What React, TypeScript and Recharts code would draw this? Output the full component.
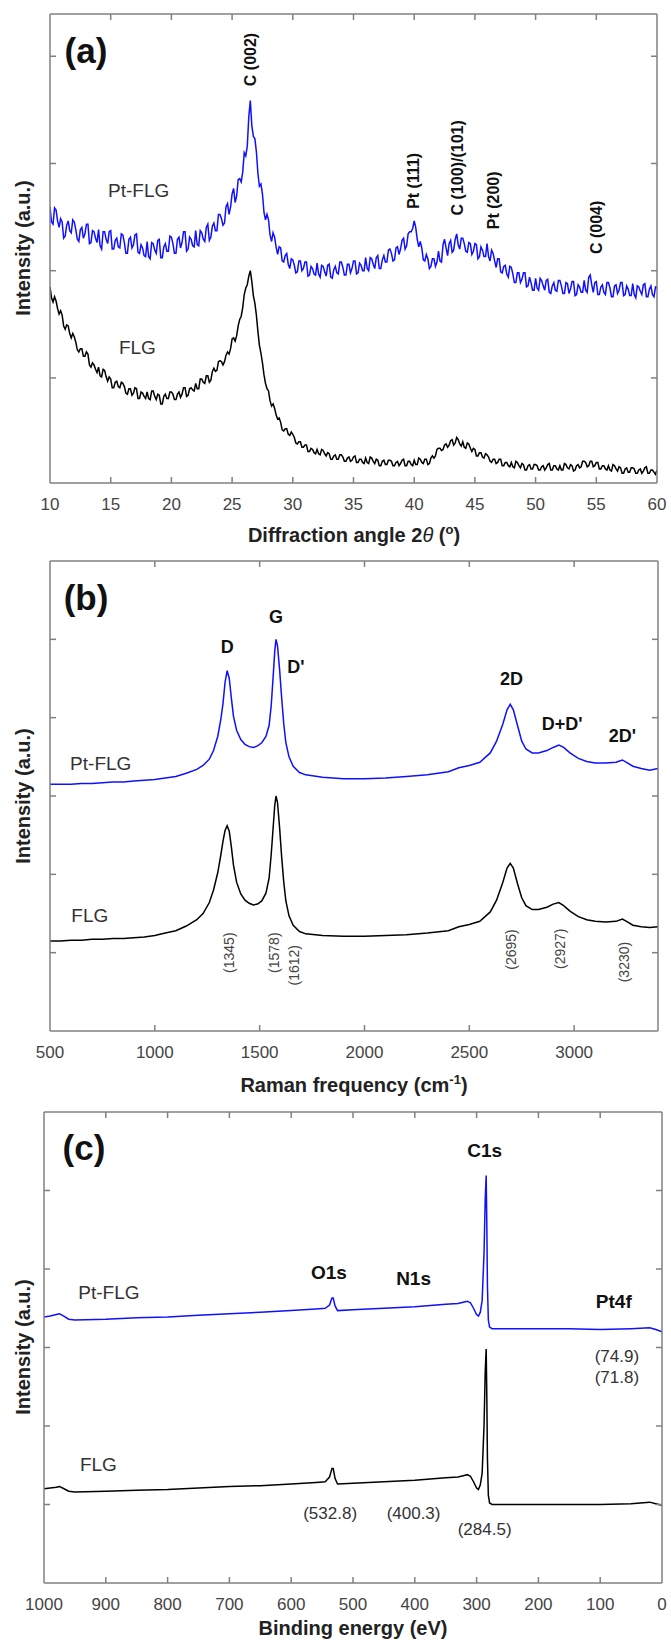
import React from 'react';
import { LineChart, Line, XAxis, YAxis, ReferenceDot, ReferenceLine } from 'recharts';

const FONT = '"Liberation Sans", Arial, Helvetica, sans-serif';
const BLUE = '#1010ff';
const BLACK = '#000000';
const FRAME = '#808080';
const TICK_TEXT = '#444444';
const TICK_LEN = 6;

// ---------- (a) XRD : one reading every 0.125 degree, 10 -> 60 ----------
const xrdStart = 10;
const xrdStep = 0.125;
const xrdPtFLG = [
  2.55, 2.41, 2.39, 2.54, 2.52, 2.42, 2.36, 2.44, 2.41, 2.26, 2.28, 2.38, 2.42, 2.33, 2.31, 2.43,
  2.41, 2.34, 2.25, 2.23, 2.34, 2.36, 2.26, 2.30, 2.39, 2.39, 2.21, 2.22, 2.33, 2.32, 2.26, 2.22,
  2.34, 2.19, 2.16, 2.32, 2.32, 2.25, 2.21, 2.32, 2.33, 2.16, 2.16, 2.24, 2.26, 2.18, 2.17, 2.30,
  2.29, 2.22, 2.12, 2.12, 2.25, 2.27, 2.17, 2.20, 2.29, 2.30, 2.13, 2.12, 2.20, 2.17, 2.10, 2.09,
  2.23, 2.09, 2.07, 2.22, 2.21, 2.15, 2.12, 2.24, 2.25, 2.08, 2.08, 2.18, 2.21, 2.14, 2.14, 2.28,
  2.27, 2.21, 2.12, 2.12, 2.25, 2.27, 2.17, 2.22, 2.32, 2.32, 2.14, 2.16, 2.27, 2.25, 2.19, 2.18,
  2.33, 2.20, 2.19, 2.33, 2.31, 2.25, 2.23, 2.36, 2.39, 2.24, 2.27, 2.37, 2.40, 2.33, 2.33, 2.48,
  2.48, 2.44, 2.38, 2.40, 2.55, 2.58, 2.48, 2.55, 2.67, 2.72, 2.59, 2.65, 2.80, 2.81, 2.78, 2.87,
  3.05, 3.02, 3.11, 3.38, 3.53, 3.30, 3.20, 3.18, 3.06, 2.86, 2.74, 2.76, 2.67, 2.50, 2.43, 2.48,
  2.43, 2.29, 2.23, 2.31, 2.27, 2.18, 2.11, 2.18, 2.17, 2.05, 2.04, 2.10, 2.12, 2.02, 1.98, 2.07,
  2.06, 2.01, 1.94, 1.95, 2.05, 2.05, 1.96, 1.98, 2.04, 2.04, 1.91, 1.92, 2.00, 1.98, 1.93, 1.92,
  2.03, 1.93, 1.90, 2.01, 2.00, 1.95, 1.91, 2.01, 2.02, 1.90, 1.89, 1.97, 2.00, 1.94, 1.93, 2.04,
  2.04, 1.99, 1.92, 1.92, 2.02, 2.02, 1.94, 1.98, 2.05, 2.05, 1.93, 1.94, 2.03, 2.01, 1.96, 1.96,
  2.08, 1.98, 1.96, 2.08, 2.07, 2.02, 1.98, 2.08, 2.10, 1.98, 1.98, 2.06, 2.10, 2.04, 2.04, 2.15,
  2.16, 2.12, 2.05, 2.06, 2.17, 2.18, 2.11, 2.16, 2.24, 2.26, 2.16, 2.19, 2.30, 2.32, 2.32, 2.35,
  2.42, 2.36, 2.25, 2.18, 2.23, 2.17, 2.06, 2.05, 2.11, 2.07, 1.98, 2.00, 2.07, 2.07, 2.00, 2.04,
  2.14, 2.05, 2.04, 2.20, 2.25, 2.17, 2.10, 2.21, 2.24, 2.13, 2.15, 2.25, 2.30, 2.20, 2.16, 2.26,
  2.26, 2.21, 2.14, 2.13, 2.22, 2.21, 2.11, 2.14, 2.21, 2.20, 2.07, 2.09, 2.18, 2.15, 2.09, 2.09,
  2.21, 2.09, 2.05, 2.15, 2.12, 2.05, 1.99, 2.07, 2.07, 1.95, 1.94, 2.00, 2.01, 1.93, 1.90, 2.00,
  1.99, 1.93, 1.85, 1.85, 1.94, 1.94, 1.85, 1.88, 1.94, 1.94, 1.81, 1.82, 1.90, 1.85, 1.78, 1.78,
  1.89, 1.80, 1.78, 1.89, 1.87, 1.82, 1.78, 1.87, 1.88, 1.76, 1.75, 1.82, 1.85, 1.78, 1.77, 1.87,
  1.87, 1.82, 1.75, 1.75, 1.85, 1.84, 1.75, 1.79, 1.86, 1.86, 1.73, 1.74, 1.83, 1.81, 1.76, 1.76,
  1.87, 1.78, 1.76, 1.90, 1.92, 1.83, 1.76, 1.85, 1.86, 1.74, 1.74, 1.81, 1.83, 1.76, 1.74, 1.85,
  1.85, 1.80, 1.72, 1.72, 1.82, 1.83, 1.75, 1.78, 1.85, 1.85, 1.73, 1.74, 1.82, 1.79, 1.73, 1.73,
  1.84, 1.74, 1.71, 1.82, 1.81, 1.77, 1.74, 1.83, 1.84, 1.72, 1.72, 1.79, 1.82, 1.74, 1.72, 1.81,
  1.80,
];
const xrdFLG = [
  1.81, 1.71, 1.67, 1.72, 1.68, 1.61, 1.56, 1.59, 1.55, 1.45, 1.42, 1.46, 1.45, 1.38, 1.34, 1.38,
  1.35, 1.30, 1.23, 1.21, 1.24, 1.24, 1.17, 1.17, 1.21, 1.19, 1.09, 1.07, 1.11, 1.09, 1.05, 1.02,
  1.07, 0.99, 0.98, 1.05, 1.04, 0.98, 0.94, 0.98, 0.96, 0.88, 0.88, 0.93, 0.94, 0.89, 0.88, 0.93,
  0.92, 0.89, 0.83, 0.82, 0.87, 0.87, 0.81, 0.83, 0.88, 0.87, 0.78, 0.78, 0.84, 0.83, 0.80, 0.78,
  0.84, 0.78, 0.77, 0.85, 0.85, 0.80, 0.77, 0.82, 0.81, 0.73, 0.73, 0.80, 0.82, 0.78, 0.78, 0.84,
  0.84, 0.82, 0.77, 0.77, 0.82, 0.84, 0.79, 0.82, 0.88, 0.88, 0.80, 0.81, 0.87, 0.88, 0.86, 0.85,
  0.92, 0.87, 0.87, 0.96, 0.96, 0.93, 0.92, 0.99, 0.99, 0.93, 0.95, 1.03, 1.06, 1.03, 1.04, 1.12,
  1.13, 1.12, 1.09, 1.12, 1.18, 1.21, 1.19, 1.24, 1.33, 1.34, 1.31, 1.36, 1.45, 1.51, 1.54, 1.62,
  1.74, 1.80, 1.83, 1.91, 1.96, 1.86, 1.73, 1.66, 1.55, 1.40, 1.27, 1.20, 1.11, 1.00, 0.92, 0.87,
  0.85, 0.76, 0.71, 0.73, 0.69, 0.63, 0.59, 0.60, 0.56, 0.49, 0.48, 0.50, 0.50, 0.45, 0.44, 0.47,
  0.45, 0.42, 0.37, 0.36, 0.38, 0.38, 0.33, 0.33, 0.35, 0.35, 0.29, 0.29, 0.32, 0.31, 0.28, 0.27,
  0.31, 0.27, 0.26, 0.31, 0.30, 0.27, 0.25, 0.28, 0.27, 0.22, 0.22, 0.25, 0.26, 0.22, 0.22, 0.26,
  0.26, 0.24, 0.20, 0.20, 0.23, 0.24, 0.20, 0.21, 0.24, 0.25, 0.19, 0.19, 0.22, 0.22, 0.19, 0.18,
  0.23, 0.19, 0.18, 0.24, 0.23, 0.20, 0.18, 0.22, 0.21, 0.16, 0.16, 0.20, 0.21, 0.17, 0.17, 0.21,
  0.21, 0.20, 0.16, 0.16, 0.19, 0.20, 0.16, 0.18, 0.21, 0.22, 0.16, 0.16, 0.20, 0.20, 0.17, 0.16,
  0.21, 0.17, 0.17, 0.23, 0.22, 0.19, 0.18, 0.22, 0.22, 0.17, 0.18, 0.23, 0.25, 0.23, 0.25, 0.31,
  0.32, 0.32, 0.30, 0.31, 0.35, 0.36, 0.33, 0.35, 0.39, 0.40, 0.35, 0.37, 0.42, 0.40, 0.36, 0.34,
  0.38, 0.33, 0.32, 0.37, 0.36, 0.32, 0.29, 0.32, 0.31, 0.25, 0.25, 0.28, 0.28, 0.24, 0.23, 0.27,
  0.26, 0.24, 0.20, 0.19, 0.22, 0.22, 0.18, 0.19, 0.22, 0.22, 0.16, 0.16, 0.19, 0.19, 0.16, 0.15,
  0.19, 0.15, 0.14, 0.20, 0.19, 0.16, 0.14, 0.18, 0.17, 0.12, 0.12, 0.16, 0.17, 0.13, 0.13, 0.17,
  0.17, 0.16, 0.12, 0.12, 0.15, 0.16, 0.12, 0.14, 0.17, 0.18, 0.12, 0.12, 0.16, 0.16, 0.13, 0.12,
  0.16, 0.12, 0.12, 0.18, 0.17, 0.14, 0.13, 0.17, 0.16, 0.11, 0.12, 0.16, 0.17, 0.14, 0.15, 0.20,
  0.20, 0.19, 0.15, 0.16, 0.20, 0.20, 0.15, 0.16, 0.19, 0.19, 0.13, 0.13, 0.16, 0.16, 0.13, 0.12,
  0.16, 0.12, 0.11, 0.17, 0.16, 0.13, 0.11, 0.15, 0.14, 0.09, 0.09, 0.13, 0.14, 0.10, 0.10, 0.14,
  0.14, 0.13, 0.09, 0.09, 0.12, 0.13, 0.09, 0.11, 0.14, 0.15, 0.09, 0.09, 0.12, 0.12, 0.10, 0.08,
  0.12,
];
const xrdAngle = xrdPtFLG.map((_, i) => xrdStart + i * xrdStep);
const xrdTicks = [10, 15, 20, 25, 30, 35, 40, 45, 50, 55, 60];
const xrdYTicks = [0.97, 1.96, 2.95, 3.94];

// ---------- (b) Raman ----------
const ramanShift = [
  500, 550, 600, 650, 700, 750, 800, 850, 900, 950, 1000, 1050, 1100, 1150, 1200,
  1230, 1260, 1280, 1300, 1315, 1325, 1335, 1345, 1355, 1365, 1375, 1390, 1410, 1430, 1450, 1470,
  1490, 1510, 1530, 1545, 1555, 1565, 1572, 1578, 1585, 1595, 1605, 1615, 1625, 1640, 1660, 1690, 1720,
  1800, 1900, 2000, 2100, 2200, 2300, 2400,
  2450, 2500, 2550, 2600, 2630, 2660, 2680, 2695, 2710, 2730, 2750, 2770, 2800, 2830, 2870,
  2900, 2927, 2950, 2980, 3020, 3060, 3100, 3150, 3200, 3230, 3250, 3280, 3320, 3360, 3400,
];
const ramanPtFLG = [
  3.15, 3.15, 3.15, 3.16, 3.16, 3.17, 3.18, 3.18, 3.19, 3.20, 3.21, 3.23, 3.25, 3.29, 3.34,
  3.39, 3.47, 3.58, 3.76, 3.98, 4.18, 4.45, 4.60, 4.50, 4.25, 4.02, 3.84, 3.72, 3.66, 3.63, 3.62,
  3.64, 3.68, 3.76, 3.90, 4.15, 4.55, 4.85, 5.00, 4.92, 4.62, 4.25, 3.92, 3.68, 3.50, 3.38, 3.30, 3.27,
  3.24, 3.22, 3.22, 3.23, 3.25, 3.27, 3.31,
  3.36, 3.39, 3.43, 3.55, 3.70, 3.92, 4.10, 4.17, 4.10, 3.90, 3.70, 3.60, 3.55, 3.55, 3.58,
  3.62, 3.65, 3.62, 3.55, 3.48, 3.44, 3.42, 3.42, 3.43, 3.46, 3.43, 3.38, 3.35, 3.33, 3.35,
];
const ramanFLG = [
  1.15, 1.15, 1.16, 1.16, 1.17, 1.17, 1.18, 1.18, 1.19, 1.20, 1.22, 1.25, 1.28, 1.34, 1.42,
  1.50, 1.64, 1.80, 2.02, 2.25, 2.42, 2.56, 2.62, 2.55, 2.35, 2.12, 1.90, 1.75, 1.67, 1.63, 1.61,
  1.62, 1.66, 1.76, 1.95, 2.25, 2.62, 2.88, 3.00, 2.92, 2.60, 2.22, 1.90, 1.66, 1.47, 1.35, 1.27, 1.24,
  1.22, 1.21, 1.21, 1.22, 1.23, 1.25, 1.28,
  1.33, 1.36, 1.40, 1.52, 1.67, 1.90, 2.08, 2.14, 2.08, 1.88, 1.70, 1.60, 1.55, 1.55, 1.58,
  1.62, 1.64, 1.60, 1.53, 1.46, 1.42, 1.40, 1.39, 1.40, 1.43, 1.40, 1.35, 1.33, 1.32, 1.33,
];
const ramanTicks = [500, 1000, 1500, 2000, 2500, 3000];
const sixTicks = [1, 2, 3, 4, 5];

// ---------- (c) XPS ----------
const xpsEnergy = [
  1000, 990, 980, 975, 970, 960, 950, 900, 850, 800, 750, 700, 650, 600, 560, 545, 538, 534, 532, 529,
  525, 500, 450, 400, 350, 330, 320, 315, 310, 305, 300, 297, 294, 291, 288, 286, 284.5, 283.5, 282.5, 281,
  279, 275, 250, 200, 150, 100, 50, 20, 10, 0,
];
const xpsPtFLG = [
  3.39, 3.40, 3.42, 3.43, 3.41, 3.36, 3.35, 3.36, 3.38, 3.39, 3.41, 3.43, 3.45, 3.47, 3.49, 3.50, 3.54, 3.63, 3.63, 3.53,
  3.47, 3.48, 3.50, 3.52, 3.55, 3.56, 3.58, 3.59, 3.57, 3.50, 3.42, 3.40, 3.45, 3.60, 4.20, 4.90, 5.19, 4.60, 3.80, 3.35,
  3.26, 3.24, 3.24, 3.24, 3.24, 3.23, 3.24, 3.25, 3.23, 3.20,
];
const xpsFLG = [
  1.20, 1.21, 1.22, 1.23, 1.21, 1.17, 1.16, 1.17, 1.18, 1.19, 1.21, 1.23, 1.24, 1.26, 1.28, 1.29, 1.35, 1.46, 1.46, 1.33,
  1.26, 1.27, 1.29, 1.31, 1.34, 1.35, 1.37, 1.38, 1.36, 1.29, 1.21, 1.19, 1.25, 1.40, 2.00, 2.70, 2.98, 2.40, 1.60, 1.12,
  1.02, 1.00, 1.00, 1.00, 1.00, 1.00, 1.01, 1.03, 1.01, 0.99,
];
const xpsTicks = [0, 100, 200, 300, 400, 500, 600, 700, 800, 900, 1000];

// ---------- annotations (data coordinates) ----------
type Note = { text: string; x: number; y: number };
const xrdPeakNotes: Note[] = [
  { text: 'C (002)', x: 26.5, y: 3.91 },
  { text: 'Pt (111)', x: 39.95, y: 2.79 },
  { text: 'C (100)/(101)', x: 43.6, y: 2.91 },
  { text: 'Pt (200)', x: 46.5, y: 2.61 },
  { text: 'C (004)', x: 55.0, y: 2.36 },
];
const xrdSampleNotes: Note[] = [
  { text: 'Pt-FLG', x: 17.3, y: 2.70 },
  { text: 'FLG', x: 17.2, y: 1.25 },
];
const ramanBandNotes: Note[] = [
  { text: 'D', x: 1345, y: 4.90 },
  { text: 'G', x: 1578, y: 5.29 },
  { text: "D'", x: 1673, y: 4.65 },
  { text: '2D', x: 2701, y: 4.49 },
  { text: "D+D'", x: 2943, y: 3.92 },
  { text: "2D'", x: 3230, y: 3.76 },
];
const ramanPosNotes: Note[] = [
  { text: '(1345)', x: 1356, y: 1.0 },
  { text: '(1578)', x: 1567, y: 1.0 },
  { text: '(1612)', x: 1663, y: 0.84 },
  { text: '(2695)', x: 2701, y: 1.04 },
  { text: '(2927)', x: 2933, y: 1.05 },
  { text: '(3230)', x: 3240, y: 0.88 },
];
const ramanSampleNotes: Note[] = [
  { text: 'Pt-FLG', x: 742, y: 3.42 },
  { text: 'FLG', x: 690, y: 1.47 },
];
const xpsLineNotes: Note[] = [
  { text: 'C1s', x: 287, y: 5.51 },
  { text: 'O1s', x: 539, y: 3.96 },
  { text: 'N1s', x: 402, y: 3.88 },
  { text: 'Pt4f', x: 78, y: 3.59 },
];
const xpsPosNotes: Note[] = [
  { text: '(74.9)', x: 73, y: 2.89 },
  { text: '(71.8)', x: 73, y: 2.62 },
  { text: '(532.8)', x: 537, y: 0.89 },
  { text: '(400.3)', x: 402, y: 0.89 },
  { text: '(284.5)', x: 287, y: 0.68 },
];
const xpsSampleNotes: Note[] = [
  { text: 'Pt-FLG', x: 895, y: 3.70 },
  { text: 'FLG', x: 912, y: 1.51 },
];

// ---------- tables ----------
const xrdRows = xrdAngle.map((x, i) => ({ x, pt: xrdPtFLG[i], flg: xrdFLG[i] }));
const ramanRows = ramanShift.map((x, i) => ({ x, pt: ramanPtFLG[i], flg: ramanFLG[i] }));
const xpsRows = xpsEnergy.map((x, i) => ({ x, pt: xpsPtFLG[i], flg: xpsFLG[i] }));

const EmptyTick = () => <g />;

// frame: labelled bottom axis, left/right mirrored axes with inward ticks,
// a top border line, and inward x ticks on the top and bottom borders.
function frameAxes(
  xDomain: [number, number], xTicks: number[], yDomain: [number, number], yTicks: number[],
  plotHeightPx: number, reversed = false,
) {
  const line = { stroke: FRAME, strokeWidth: 1.5 };
  const tickLenData = (TICK_LEN / plotHeightPx) * (yDomain[1] - yDomain[0]);
  const inner = xTicks.filter((t) => t > Math.min(...xDomain) && t < Math.max(...xDomain));
  return [
    <XAxis
      key="xm" xAxisId="main" dataKey="x" type="number" domain={xDomain} ticks={xTicks} interval={0}
      reversed={reversed} allowDataOverflow tickLine={false} axisLine={line}
      tick={{ fill: TICK_TEXT, fontSize: 17, fontFamily: FONT }} tickSize={6} tickMargin={9} height={30}
    />,
    <YAxis
      key="yl" yAxisId="left" type="number" orientation="left" mirror domain={yDomain} ticks={yTicks} interval={0}
      allowDataOverflow tick={EmptyTick} tickSize={TICK_LEN} tickLine={line} axisLine={line} width={2}
    />,
    <YAxis
      key="yr" yAxisId="right" type="number" orientation="right" mirror domain={yDomain} ticks={yTicks} interval={0}
      allowDataOverflow tick={EmptyTick} tickSize={TICK_LEN} tickLine={line} axisLine={line} width={2}
    />,
    <ReferenceLine key="topline" xAxisId="main" yAxisId="left" y={yDomain[1]} stroke={FRAME} strokeWidth={1.5} ifOverflow="visible" />,
    ...inner.map((t) => (
      <ReferenceLine
        key={'tb' + t} xAxisId="main" yAxisId="left" stroke={FRAME} strokeWidth={1.5} ifOverflow="visible"
        segment={[{ x: t, y: yDomain[0] }, { x: t, y: yDomain[0] + tickLenData }]}
      />
    )),
    ...inner.map((t) => (
      <ReferenceLine
        key={'tt' + t} xAxisId="main" yAxisId="left" stroke={FRAME} strokeWidth={1.5} ifOverflow="visible"
        segment={[{ x: t, y: yDomain[1] }, { x: t, y: yDomain[1] - tickLenData }]}
      />
    )),
  ];
}

type NoteStyle = { size: number; weight: number; fill: string; rotate?: boolean };
function noteDots(prefix: string, notes: Note[], st: NoteStyle) {
  return notes.map((n, i) => (
    <ReferenceDot
      key={prefix + i}
      xAxisId="main"
      yAxisId="left"
      x={n.x}
      y={n.y}
      r={1}
      ifOverflow="visible"
      shape={(p: any) => (
        <text
          x={p.cx}
          y={p.cy}
          textAnchor="middle"
          dominantBaseline="central"
          fontFamily={FONT}
          fontSize={st.size}
          fontWeight={st.weight}
          fill={st.fill}
          transform={st.rotate ? `rotate(-90 ${p.cx} ${p.cy})` : undefined}
        >
          {n.text}
        </text>
      )}
    />
  ));
}

function series(width: number) {
  return [
    <Line key="pt" xAxisId="main" yAxisId="left" dataKey="pt" type="linear" stroke={BLUE} strokeWidth={width} dot={false} isAnimationActive={false} />,
    <Line key="flg" xAxisId="main" yAxisId="left" dataKey="flg" type="linear" stroke={BLACK} strokeWidth={width} dot={false} isAnimationActive={false} />,
  ];
}

const abs = (left: number, top: number): React.CSSProperties => ({
  position: 'absolute', left, top, transform: 'translate(-50%, -50%)', whiteSpace: 'nowrap', lineHeight: 1,
});
const titleStyle: React.CSSProperties = { fontFamily: FONT, fontWeight: 700, fontSize: 20, color: '#222' };
const panelStyle: React.CSSProperties = { fontFamily: FONT, fontWeight: 700, fontSize: 35, color: '#111' };

function YLabel({ top }: { top: number }) {
  return (
    <div style={{ ...abs(23, top), ...titleStyle, transform: 'translate(-50%, -50%) rotate(-90deg)' }}>
      Intensity (a.u.)
    </div>
  );
}

const sampleStyle: NoteStyle = { size: 19, weight: 400, fill: '#333' };

export default function App() {
  return (
    <div style={{ position: 'relative', width: 671, height: 1646, background: '#fff', overflow: 'hidden' }}>
      <style>{'body{margin:0;background:#fff}'}</style>

      {/* (a) XRD */}
      <div style={{ position: 'absolute', left: 0, top: 0 }}>
        <LineChart width={671} height={560} data={xrdRows} margin={{ top: 14, right: 14, bottom: 47, left: 50 }}>
          {frameAxes([10, 60], xrdTicks, [0, 4.33], xrdYTicks, 469)}
          {series(1.5)}
          {noteDots('xp', xrdPeakNotes, { size: 16, weight: 700, fill: '#111', rotate: true })}
          {noteDots('xs', xrdSampleNotes, sampleStyle)}
        </LineChart>
      </div>

      {/* (b) Raman */}
      <div style={{ position: 'absolute', left: 0, top: 545 }}>
        <LineChart width={671} height={560} data={ramanRows} margin={{ top: 16, right: 13, bottom: 44, left: 50 }}>
          {frameAxes([500, 3400], ramanTicks, [0, 6], sixTicks, 470)}
          {series(1.5)}
          {noteDots('rb', ramanBandNotes, { size: 18, weight: 700, fill: '#111' })}
          {noteDots('rp', ramanPosNotes, { size: 14, weight: 400, fill: '#444', rotate: true })}
          {noteDots('rs', ramanSampleNotes, sampleStyle)}
        </LineChart>
      </div>

      {/* (c) XPS */}
      <div style={{ position: 'absolute', left: 0, top: 1096 }}>
        <LineChart width={671} height={550} data={xpsRows} margin={{ top: 16, right: 9, bottom: 33, left: 44 }}>
          {frameAxes([0, 1000], xpsTicks, [0, 6], sixTicks, 471, true)}
          {series(1.5)}
          {noteDots('cl', xpsLineNotes, { size: 19, weight: 700, fill: '#111' })}
          {noteDots('cp', xpsPosNotes, { size: 17, weight: 400, fill: '#333' })}
          {noteDots('cs', xpsSampleNotes, sampleStyle)}
        </LineChart>
      </div>

      <div style={{ ...abs(86, 50), ...panelStyle }}>(a)</div>
      <div style={{ ...abs(86, 597), ...panelStyle }}>(b)</div>
      <div style={{ ...abs(84, 1147), ...panelStyle }}>(c)</div>

      <YLabel top={248} />
      <YLabel top={796} />
      <YLabel top={1347} />

      <div style={{ ...abs(354, 534), ...titleStyle }}>
        Diffraction angle 2<span style={{ fontStyle: 'italic', fontWeight: 400 }}>θ</span> (<sup style={{ fontSize: 13 }}>o</sup>)
      </div>
      <div style={{ ...abs(354, 1084), ...titleStyle }}>
        Raman frequency (cm<sup style={{ fontSize: 13 }}>-1</sup>)
      </div>
      <div style={{ ...abs(353, 1628), ...titleStyle }}>Binding energy (eV)</div>
    </div>
  );
}
